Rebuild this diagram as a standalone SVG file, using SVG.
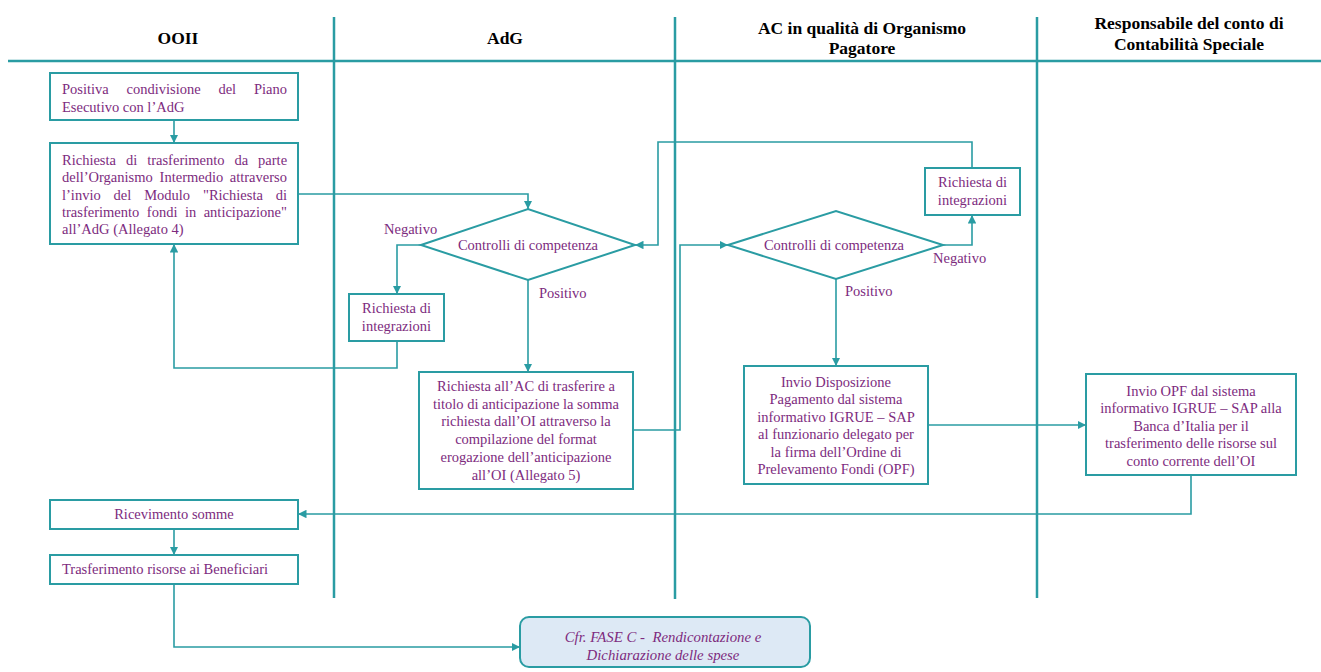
<svg xmlns="http://www.w3.org/2000/svg" width="1321" height="672" viewBox="0 0 1321 672">
<style>
  .hdr{font-family:"Liberation Serif",Tinos,"Times New Roman","DejaVu Serif",serif;font-weight:bold;font-size:17.5px;fill:#000;text-anchor:middle}
  .t{font-family:"Liberation Serif",Tinos,"Times New Roman","DejaVu Serif",serif;font-size:14.5px;fill:#7d2b7e}
  .c{text-anchor:middle}
  .it{font-style:italic;font-size:14.8px}
  .box{fill:#fff;stroke:#2a9ca3;stroke-width:2}
  .dia{fill:#fff;stroke:#2a9ca3;stroke-width:2}
  .lane{stroke:#2a9ca3;stroke-width:2.5;fill:none}
  .conn{fill:none;stroke:#2a9ca3;stroke-width:1.6}
</style>
<defs>
  <marker id="ah" viewBox="0 0 10 10" refX="10" refY="5" markerWidth="8.5" markerHeight="8.5" markerUnits="userSpaceOnUse" orient="auto">
    <path d="M0,0 L10,5 L0,10 z" fill="#2a9ca3"/>
  </marker>
</defs>
<rect width="1321" height="672" fill="#fff"/>
<g id="lanes">
  <line class="lane" x1="8" y1="61" x2="1321" y2="61" stroke-width="3"/>
  <line class="lane" x1="334" y1="17" x2="334" y2="598"/>
  <line class="lane" x1="675" y1="17" x2="675" y2="599"/>
  <line class="lane" x1="1037" y1="17" x2="1037" y2="598"/>
  <text class="hdr" x="178" y="43.5">OOII</text>
  <text class="hdr" x="505" y="43.5">AdG</text>
  <text class="hdr" x="862" y="34">AC in qualità di Organismo</text>
  <text class="hdr" x="862" y="54">Pagatore</text>
  <text class="hdr" x="1189" y="29">Responsabile del conto di</text>
  <text class="hdr" x="1189" y="49.5">Contabilità Speciale</text>
</g>
<g id="connectors">
  <path class="conn" marker-end="url(#ah)" d="M174,120 V143"/>
  <path class="conn" marker-end="url(#ah)" d="M298,194 H528 V209"/>
  <path class="conn" marker-end="url(#ah)" d="M421,245 H397 V294"/>
  <path class="conn" marker-end="url(#ah)" d="M397,341 V368 H174 V244"/>
  <path class="conn" marker-end="url(#ah)" d="M528,280 V372"/>
  <path class="conn" marker-end="url(#ah)" d="M633,430 H680 V245 H728"/>
  <path class="conn" marker-end="url(#ah)" d="M943,245 H972 V215"/>
  <path class="conn" marker-end="url(#ah)" d="M972,168 V142 H658 V245 H635"/>
  <path class="conn" marker-end="url(#ah)" d="M836,279 V366"/>
  <path class="conn" marker-end="url(#ah)" d="M928,425 H1086"/>
  <path class="conn" marker-end="url(#ah)" d="M1191,475 V514 H298"/>
  <path class="conn" marker-end="url(#ah)" d="M174,529 V555"/>
  <path class="conn" marker-end="url(#ah)" d="M174,584 V647 H520"/>
  <text class="t" x="384" y="234">Negativo</text>
  <text class="t" x="539" y="298">Positivo</text>
  <text class="t" x="933" y="263">Negativo</text>
  <text class="t" x="845" y="296">Positivo</text>
</g>
<g id="n1">
  <rect class="box" x="50" y="73" width="248" height="47"/>
  <text class="t" y="94"><tspan x="62">Positiva</tspan><tspan x="126.5">condivisione</tspan><tspan x="218.4">del</tspan><tspan x="253.9">Piano</tspan></text>
  <text class="t" x="62" y="111.5">Esecutivo con l’AdG</text>
</g>
<g id="n2">
  <rect class="box" x="50" y="143" width="248" height="101"/>
  <text class="t" y="165"><tspan x="62">Richiesta</tspan><tspan x="126">di</tspan><tspan x="147.2">trasferimento</tspan><tspan x="234.5">da</tspan><tspan x="258.1">parte</tspan></text>
  <text class="t" y="182.3"><tspan x="62">dell’Organismo</tspan><tspan x="159.6">Intermedio</tspan><tspan x="229.8">attraverso</tspan></text>
  <text class="t" y="199.6"><tspan x="62">l’invio</tspan><tspan x="113.6">del</tspan><tspan x="144.2">Modulo</tspan><tspan x="203">"Richiesta</tspan><tspan x="275.8">di</tspan></text>
  <text class="t" y="216.9"><tspan x="62">trasferimento</tspan><tspan x="146.8">fondi</tspan><tspan x="184.9">in</tspan><tspan x="203.7">anticipazione"</tspan></text>
  <text class="t" x="62" y="234.2">all’AdG (Allegato 4)</text>
</g>
<g id="d1">
  <polygon class="dia" points="421,245 528,209 635,245 528,280"/>
  <text class="t c" x="528" y="250">Controlli di competenza</text>
</g>
<g id="n3">
  <rect class="box" x="349" y="294" width="95" height="47"/>
  <text class="t c" x="396.5" y="313">Richiesta di</text>
  <text class="t c" x="396.5" y="331">integrazioni</text>
</g>
<g id="n4">
  <rect class="box" x="419" y="372" width="214" height="117"/>
  <text class="t c" x="526" y="391">Richiesta all’AC di trasferire a</text>
  <text class="t c" x="526" y="408.7">titolo di anticipazione la somma</text>
  <text class="t c" x="526" y="426.4">richiesta dall’OI attraverso la</text>
  <text class="t c" x="526" y="444.1">compilazione del format</text>
  <text class="t c" x="526" y="461.8">erogazione dell’anticipazione</text>
  <text class="t c" x="526" y="479.5">all’OI (Allegato 5)</text>
</g>
<g id="d2">
  <polygon class="dia" points="728,245 836,211 943,245 836,279"/>
  <text class="t c" x="834" y="250">Controlli di competenza</text>
</g>
<g id="n5">
  <rect class="box" x="925" y="168" width="95" height="47"/>
  <text class="t c" x="972.5" y="187">Richiesta di</text>
  <text class="t c" x="972.5" y="205">integrazioni</text>
</g>
<g id="n6">
  <rect class="box" x="744" y="366" width="184" height="118"/>
  <text class="t c" x="836" y="386.5">Invio Disposizione</text>
  <text class="t c" x="836" y="404">Pagamento dal sistema</text>
  <text class="t c" x="836" y="421.5">informativo IGRUE – SAP</text>
  <text class="t c" x="836" y="439">al funzionario delegato per</text>
  <text class="t c" x="836" y="456.5">la firma dell’Ordine di</text>
  <text class="t c" x="836" y="474">Prelevamento Fondi (OPF)</text>
</g>
<g id="n7">
  <rect class="box" x="1086" y="374" width="210" height="101"/>
  <text class="t c" x="1191" y="395.5">Invio OPF dal sistema</text>
  <text class="t c" x="1191" y="413">informativo IGRUE – SAP alla</text>
  <text class="t c" x="1191" y="430.5">Banca d’Italia per il</text>
  <text class="t c" x="1191" y="448">trasferimento delle risorse sul</text>
  <text class="t c" x="1191" y="465.5">conto corrente dell’OI</text>
</g>
<g id="n8">
  <rect class="box" x="50" y="500" width="248" height="29"/>
  <text class="t c" x="174" y="519">Ricevimento somme</text>
</g>
<g id="n9">
  <rect class="box" x="50" y="555" width="248" height="29"/>
  <text class="t" x="62" y="574">Trasferimento risorse ai Beneficiari</text>
</g>
<g id="n10">
  <rect x="520" y="617" width="290" height="50" rx="9" fill="#dde9f5" stroke="#2a9ca3" stroke-width="2"/>
  <text class="t c it" x="663" y="642">Cfr. FASE C -&#160; Rendicontazione e</text>
  <text class="t c it" x="663" y="660">Dichiarazione delle spese</text>
</g>
</svg>
